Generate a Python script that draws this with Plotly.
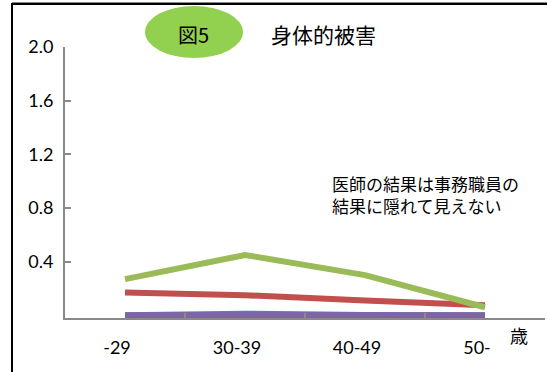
import plotly.graph_objects as go

categories = ["-29", "30-39", "40-49", "50-"]
green_vals = [0.27, 0.45, 0.30, 0.06]
red_vals = [0.17, 0.15, 0.11, 0.075]
blue_vals = [0.0, 0.012, 0.003, 0.0]
purple_vals = [0.0, 0.005, 0.0, 0.0]
y_ticks = [0.4, 0.8, 1.2, 1.6, 2.0]
y_ticklabels = ["0.4", "0.8", "1.2", "1.6", "2.0"]
note_lines = ["医師の結果は事務職員の", "結果に隠れて見えない"]

W, H = 547, 372
L, R, T, B = 65, 2, 47, 54
pw, ph = W - L - R, H - T - B

def px(x):
    return (x - L) / pw

def py(y):
    return (H - B - y) / ph

fig = go.Figure()
series = [
    (blue_vals, "#4F81BD"),
    (purple_vals, "#8064A2"),
    (red_vals, "#C0504D"),
    (green_vals, "#9BBB59"),
]
for vals, col in series:
    fig.add_trace(go.Scatter(x=categories, y=vals, mode="lines",
                             line=dict(color=col, width=6), showlegend=False))

num_font = dict(family="Lato, Open Sans, sans-serif", size=18, color="#000000")
jp = "Noto Sans CJK JP"

annotations = [
    dict(text="図5", xref="paper", yref="paper", x=px(193), y=py(34),
         showarrow=False, xanchor="center", yanchor="middle",
         font=dict(family=jp, size=20, color="black")),
    dict(text="身体的被害", xref="paper", yref="paper", x=px(323), y=py(34),
         showarrow=False, xanchor="center", yanchor="middle",
         font=dict(family=jp, size=21, color="black")),
    dict(text="歳", xref="paper", yref="paper", x=px(519), y=py(335),
         showarrow=False, xanchor="center", yanchor="middle",
         font=dict(family=jp, size=18, color="black")),
    dict(text="<br>".join(note_lines), xref="paper", yref="paper",
         x=px(331), y=py(195), showarrow=False, align="left",
         xanchor="left", yanchor="middle", borderpad=0,
         font=dict(family=jp, size=17, color="black")),
]

fig.update_layout(
    width=W, height=H,
    margin=dict(l=L, r=R, t=T, b=B),
    paper_bgcolor="white", plot_bgcolor="white",
    xaxis=dict(type="category", range=[-0.5, 3.5], showgrid=False,
               showline=True, linecolor="#898989", linewidth=2,
               ticks="inside", tickson="boundaries", ticklen=5,
               tickcolor="#898989", tickwidth=1.5,
               tickfont=num_font, ticklabelstandoff=12, ticklabelshift=-8,
               zeroline=False, fixedrange=True),
    yaxis=dict(range=[-0.02, 2.0], showgrid=False, showline=True,
               linecolor="#898989", linewidth=2,
               tickvals=y_ticks, ticktext=y_ticklabels,
               ticks="inside", ticklen=6, tickcolor="#898989", tickwidth=1.5,
               tickfont=num_font, ticklabelstandoff=6,
               zeroline=False, fixedrange=True),
    shapes=[
        dict(type="line", xref="paper", yref="paper",
             x0=px(12), x1=px(12), y0=py(3), y1=py(372),
             line=dict(color="black", width=2)),
        dict(type="line", xref="paper", yref="paper",
             x0=px(12), x1=px(547), y0=py(2.5), y1=py(2.5),
             line=dict(color="#888888", width=1)),
        dict(type="line", xref="paper", yref="paper",
             x0=px(12), x1=px(547), y0=py(4), y1=py(4),
             line=dict(color="black", width=2)),
        dict(type="circle", xref="paper", yref="paper",
             x0=px(145), x1=px(243), y0=py(58), y1=py(6),
             fillcolor="#92D050", line=dict(width=0), layer="below"),
    ],
    annotations=annotations,
)

fig.write_html("out.html")
